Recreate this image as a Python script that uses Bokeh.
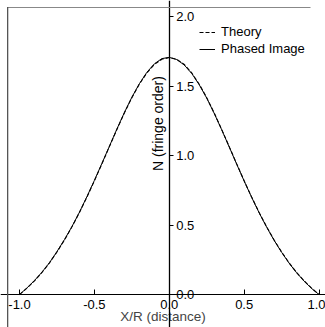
from math import pi
from bokeh.plotting import figure
from bokeh.models import (LinearAxis, Range1d, Legend, LegendItem, Label,
                          FixedTicker, PrintfTickFormatter, BoxAnnotation)
from bokeh.embed import file_html
from bokeh.resources import INLINE

# ---- data ----
x_vals = [-1.00, -0.95, -0.90, -0.85, -0.80, -0.75, -0.70, -0.65, -0.60, -0.55,
          -0.50, -0.45, -0.40, -0.35, -0.30, -0.25, -0.20, -0.15, -0.10, -0.05,
          0.00, 0.05, 0.10, 0.15, 0.20, 0.25, 0.30, 0.35, 0.40, 0.45,
          0.50, 0.55, 0.60, 0.65, 0.70, 0.75, 0.80, 0.85, 0.90, 0.95, 1.00]
theory = [0.000, 0.046, 0.099, 0.159, 0.228, 0.306, 0.392, 0.487, 0.590, 0.701,
          0.818, 0.940, 1.064, 1.187, 1.306, 1.416, 1.513, 1.594, 1.655, 1.692,
          1.705, 1.692, 1.655, 1.594, 1.513, 1.416, 1.306, 1.187, 1.064, 0.940,
          0.818, 0.701, 0.590, 0.487, 0.392, 0.306, 0.228, 0.159, 0.099, 0.046, 0.000]
phased = [0.000, 0.048, 0.101, 0.161, 0.229, 0.309, 0.395, 0.489, 0.592, 0.704,
          0.821, 0.943, 1.066, 1.190, 1.309, 1.419, 1.516, 1.598, 1.659, 1.697,
          1.706, 1.690, 1.651, 1.590, 1.509, 1.413, 1.303, 1.185, 1.062, 0.938,
          0.816, 0.699, 0.588, 0.485, 0.390, 0.304, 0.226, 0.157, 0.097, 0.044, 0.000]
x_ticks = [-1.0, -0.5, 0.0, 0.5, 1.0]
y_ticks = [0.0, 0.5, 1.0, 1.5, 2.0]
x_title = "X/R (distance)"
y_title = "N (fringe order)"
series_names = ["Theory", "Phased Image"]

FONT = "Liberation Sans"
H = 327

p = figure(width=325, height=H, output_backend="svg", toolbar_location=None,
           x_range=Range1d(-1.127, 1.043), y_range=Range1d(-0.237, 2.115),
           x_axis_location=None, y_axis_location=None, min_border=0,
           background_fill_color="white", border_fill_color="white")
p.outline_line_color = None
for g in p.grid:
    g.visible = False

# scan frame remnants (top and left edges); screen y is measured from the bottom
p.add_layout(BoxAnnotation(left=7, right=310, top=H - 6.5, bottom=H - 7.5,
                           left_units="screen", right_units="screen",
                           top_units="screen", bottom_units="screen",
                           fill_color="#888888", fill_alpha=1, line_color=None))
p.add_layout(BoxAnnotation(left=6.5, right=7.8, top=H - 6.5, bottom=0,
                           left_units="screen", right_units="screen",
                           top_units="screen", bottom_units="screen",
                           fill_color="#555555", fill_alpha=1, line_color=None))

xa = LinearAxis(fixed_location=0, ticker=FixedTicker(ticks=x_ticks),
                formatter=PrintfTickFormatter(format="%.1f"),
                axis_label=x_title)
xa.major_tick_in = 5
xa.major_tick_out = 0
xa.minor_tick_in = 0
xa.minor_tick_out = 0
xa.major_label_standoff = 5
xa.axis_label_standoff = -3
xa.major_label_text_font = FONT
xa.major_label_text_font_size = "13px"
xa.major_label_text_color = "black"
xa.axis_label_text_font = FONT
xa.axis_label_text_font_size = "13.5px"
xa.axis_label_text_font_style = "normal"
xa.axis_line_color = "black"
xa.major_tick_line_color = "black"
p.add_layout(xa, "below")

ya = LinearAxis(fixed_location=0, ticker=FixedTicker(ticks=y_ticks),
                formatter=PrintfTickFormatter(format="%.1f"))
ya.major_tick_in = 0
ya.major_tick_out = 4
ya.minor_tick_in = 0
ya.minor_tick_out = 0
ya.major_label_standoff = 3
ya.major_label_text_font = FONT
ya.major_label_text_font_size = "13px"
ya.major_label_text_color = "black"
ya.axis_line_color = "black"
ya.axis_line_width = 1.3
ya.major_tick_line_color = "black"
p.add_layout(ya, "right")

p.add_layout(Label(x=-0.077, y=1.23, text=y_title, angle=pi / 2,
                   text_align="center", text_baseline="middle",
                   text_font=FONT, text_font_size="14px", text_color="black"))

r_ph = p.line(x_vals, phased, line_color="black", line_width=1)
r_th = p.line(x_vals, theory, line_color="black", line_width=1.1, line_dash="4 2")

legend = Legend(items=[LegendItem(label=series_names[0], renderers=[r_th]),
                       LegendItem(label=series_names[1], renderers=[r_ph])],
                location=(199, 271), orientation="vertical")
legend.glyph_width = 16
legend.glyph_height = 14
legend.label_standoff = 6
legend.spacing = 2
legend.padding = 0
legend.margin = 0
legend.border_line_color = None
legend.background_fill_alpha = 0
legend.label_text_font = FONT
legend.label_text_font_size = "13px"
legend.label_text_color = "black"
p.add_layout(legend, "center")

open("out.html", "w").write(file_html(p, INLINE))
